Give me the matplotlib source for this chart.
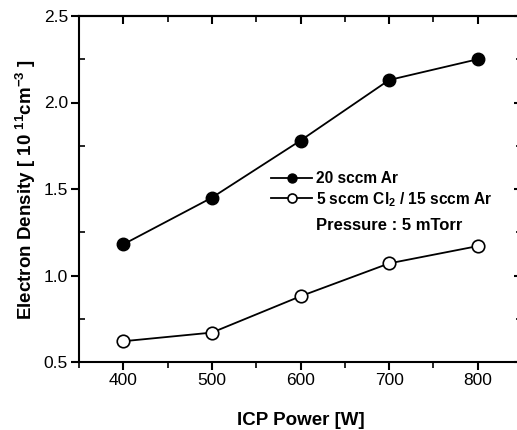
import matplotlib
matplotlib.use("Agg")
import matplotlib.pyplot as plt
from matplotlib.ticker import MultipleLocator

plt.rcParams['font.family'] = ['Liberation Sans', 'DejaVu Sans']
plt.rcParams['mathtext.fontset'] = 'custom'
plt.rcParams['mathtext.rm'] = 'Liberation Sans:bold'
plt.rcParams['mathtext.bf'] = 'Liberation Sans:bold'
plt.rcParams['mathtext.it'] = 'Liberation Sans:bold'

# Datos
potencia = [400, 500, 600, 700, 800]
densidad_ar = [1.18, 1.45, 1.78, 2.13, 2.25]
densidad_cl2 = [0.62, 0.67, 0.88, 1.07, 1.17]
etiquetas = ["20 sccm Ar", "5 sccm Cl$_\\mathbf{2}$ / 15 sccm Ar"]

fig = plt.figure(figsize=(5.17, 4.30), dpi=100)
# ejes: izquierda 79px, derecha ~522px (fuera de la imagen), arriba 16px, abajo 362px
ax = fig.add_axes([79 / 517, 1 - 362 / 430, (522 - 79) / 517, (362 - 16) / 430])

ax.plot(potencia, densidad_ar, '-o', color='black', lw=1.3, ms=9,
        mfc='black', mec='black', label=etiquetas[0])
ax.plot(potencia, densidad_cl2, '-o', color='black', lw=1.3, ms=9,
        mfc='white', mec='black', mew=1.2, label=etiquetas[1])

ax.set_xlim(350, 850)
ax.set_ylim(0.5, 2.5)
ax.xaxis.set_major_locator(MultipleLocator(100))
ax.xaxis.set_minor_locator(MultipleLocator(50))
ax.yaxis.set_major_locator(MultipleLocator(0.5))
ax.yaxis.set_minor_locator(MultipleLocator(0.25))
ax.yaxis.set_major_formatter(plt.FuncFormatter(lambda v, p: f"{v:.1f}"))

for s in ax.spines.values():
    s.set_linewidth(1.5)

ax.tick_params(axis='both', which='major', labelsize=12.5, width=1.5, length=6,
               direction='out', top=False, right=False, pad=2)
ax.tick_params(axis='x', which='minor', width=1.2, length=4, direction='out')
ax.tick_params(axis='y', which='minor', width=1.2, length=4, direction='in')

# ticks en el borde superior y derecho apuntando hacia dentro
sec_x = ax.secondary_xaxis('top')
sec_x.xaxis.set_major_locator(MultipleLocator(100))
sec_x.xaxis.set_minor_locator(MultipleLocator(50))
sec_x.tick_params(which='major', direction='in', length=6, width=1.5, labeltop=False)
sec_x.tick_params(which='minor', direction='in', length=4, width=1.2)
sec_x.spines['top'].set_linewidth(1.5)
sec_y = ax.secondary_yaxis('right')
sec_y.yaxis.set_major_locator(MultipleLocator(0.5))
sec_y.yaxis.set_minor_locator(MultipleLocator(0.25))
sec_y.tick_params(which='major', direction='in', length=6, width=1.5, labelright=False)
sec_y.tick_params(which='minor', direction='in', length=4, width=1.2)

ax.set_xlabel("ICP Power [W]", fontsize=13.5, fontweight='bold', labelpad=17)
ax.set_ylabel("Electron Density [ 10 $^{11}$cm$^{-3}$ ]", fontsize=13.5,
              fontweight='bold', labelpad=4)

ax.legend(loc='upper left', bbox_to_anchor=(0.42, 0.5 + 0.07), frameon=False,
          handlelength=2.6, handletextpad=0.3, labelspacing=0.25, markerscale=0.72,
          prop={'weight': 'bold', 'size': 11.2}, borderaxespad=0)
ax.text(0.535, 0.395, "Pressure : 5 mTorr", transform=ax.transAxes,
        fontsize=12, fontweight='bold', va='center', ha='left')

fig.savefig("out.png", dpi=100)
